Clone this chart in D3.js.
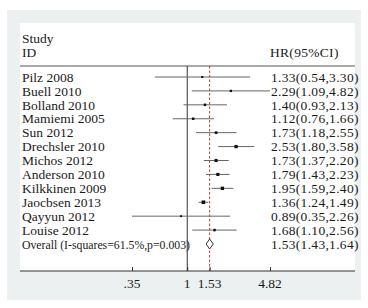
<!DOCTYPE html>
<html>
<head>
<meta charset="utf-8">
<script src="https://cdn.jsdelivr.net/npm/d3@7"></script>
<style>
  html, body { margin: 0; padding: 0; background: #fff; }
  svg { display: block; }
  text { font-family: "Liberation Serif", "DejaVu Serif", serif; fill: #1a1a1a; }
</style>
</head>
<body>
<svg id="chart" width="368" height="308"></svg>
<script>
const studies = ["Pilz 2008", "Buell 2010", "Bolland 2010", "Mamiemi 2005", "Sun 2012",
  "Drechsler 2010", "Michos 2012", "Anderson 2010", "Kilkkinen 2009", "Jaocbsen 2013",
  "Qayyun 2012", "Louise 2012"];
const hr    = [1.33, 2.29, 1.40, 1.12, 1.73, 2.53, 1.73, 1.79, 1.95, 1.36, 0.89, 1.68];
const lower = [0.54, 1.09, 0.93, 0.76, 1.18, 1.80, 1.37, 1.43, 1.59, 1.24, 0.35, 1.10];
const upper = [3.30, 4.82, 2.13, 1.66, 2.55, 3.58, 2.20, 2.23, 2.40, 1.49, 2.26, 2.56];
const weights = [2, 3, 4, 4, 5, 9, 8, 8, 10, 12, 1.5, 4];
const overallLabel = "Overall (I-squares=61.5%,p=0.003)";
const overall = { hr: 1.53, lower: 1.43, upper: 1.64 };
const tickValues = [0.35, 1, 1.53, 4.82];
const tickLabels = [".35", "1", "1.53", "4.82"];

const fmt = d3.format(".2f");
const svg = d3.select("#chart");

// panels
svg.append("rect").attr("x", 7).attr("y", 10).attr("width", 354).attr("height", 290).attr("fill", "#edf0f0");
svg.append("rect").attr("x", 20).attr("y", 23).attr("width", 335).attr("height", 248).attr("fill", "#fff");

const x = d3.scaleLog().domain([0.35, 4.82]).range([132, 270]);
const rows = studies.concat([overallLabel]);
const y = d3.scalePoint().domain(rows).range([77, 244]);
const size = d3.scaleSqrt().domain([0, d3.max(weights)]).range([0, 2.6]);

const topY = 66, axisY = 271;
const fs = 13.5, vfs = 13.5;

// header
svg.append("text").attr("x", 22).attr("y", 38).attr("dy", "0.35em").attr("font-size", fs).text("Study");
svg.append("text").attr("x", 22).attr("y", 52).attr("dy", "0.35em").attr("font-size", fs).text("ID");
svg.append("text").attr("x", 270).attr("y", 52).attr("dy", "0.35em").attr("font-size", fs)
  .attr("letter-spacing", 0.3).text("HR(95%CI)");
svg.append("line").attr("x1", 20).attr("x2", 355).attr("y1", topY).attr("y2", topY)
  .attr("stroke", "#555").attr("stroke-width", 1);

// null line and overall dashed line
svg.append("line").attr("x1", x(1)).attr("x2", x(1)).attr("y1", topY).attr("y2", axisY)
  .attr("stroke", "#333").attr("stroke-width", 1);
svg.append("line").attr("x1", x(overall.hr)).attr("x2", x(overall.hr)).attr("y1", topY).attr("y2", axisY)
  .attr("stroke", "#c0392b").attr("stroke-width", 1).attr("stroke-dasharray", "2.5,2");

// study rows
const g = svg.append("g");
studies.forEach((s, i) => {
  const yy = y(s);
  g.append("text").attr("x", 22).attr("y", yy).attr("dy", "0.35em").attr("font-size", fs).text(s);
  g.append("line").attr("x1", x(lower[i])).attr("x2", x(upper[i])).attr("y1", yy).attr("y2", yy)
    .attr("stroke", "#666").attr("stroke-width", 1);
  const r = size(weights[i]);
  g.append("rect").attr("x", x(hr[i]) - r / 2 - 0.5).attr("y", yy - r / 2 - 0.5)
    .attr("width", r + 1).attr("height", r + 1).attr("fill", "#111");
  g.append("text").attr("x", 271).attr("y", yy).attr("dy", "0.35em").attr("font-size", vfs)
    .attr("letter-spacing", 0.3)
    .text(`${fmt(hr[i])}(${fmt(lower[i])},${fmt(upper[i])})`);
});

// overall
const oy = y(overallLabel);
svg.append("text").attr("x", 22).attr("y", oy).attr("dy", "0.35em").attr("font-size", fs)
  .attr("textLength", 168).attr("lengthAdjust", "spacingAndGlyphs").text(overallLabel);
svg.append("path")
  .attr("d", `M${x(overall.lower)},${oy} L${x(overall.hr)},${oy - 5} L${x(overall.upper)},${oy} L${x(overall.hr)},${oy + 5} Z`)
  .attr("fill", "#fff").attr("stroke", "#333").attr("stroke-width", 1);
svg.append("text").attr("x", 271).attr("y", oy).attr("dy", "0.35em").attr("font-size", vfs)
  .attr("letter-spacing", 0.3)
  .text(`${fmt(overall.hr)}(${fmt(overall.lower)},${fmt(overall.upper)})`);

// axis
svg.append("line").attr("x1", 20).attr("x2", 355).attr("y1", axisY).attr("y2", axisY)
  .attr("stroke", "#333").attr("stroke-width", 1);
const axis = d3.axisTop(x).tickValues(tickValues).tickFormat("").tickSize(4).tickSizeOuter(0);
const ag = svg.append("g").attr("transform", `translate(0,${axisY})`).call(axis);
ag.select(".domain").remove();
ag.selectAll(".tick line").attr("stroke", "#333");
svg.append("g").selectAll("text").data(tickValues).join("text")
  .attr("x", d => x(d)).attr("y", 283).attr("dy", "0.35em").attr("text-anchor", "middle")
  .attr("font-size", fs).text((d, i) => tickLabels[i]);
</script>
</body>
</html>
